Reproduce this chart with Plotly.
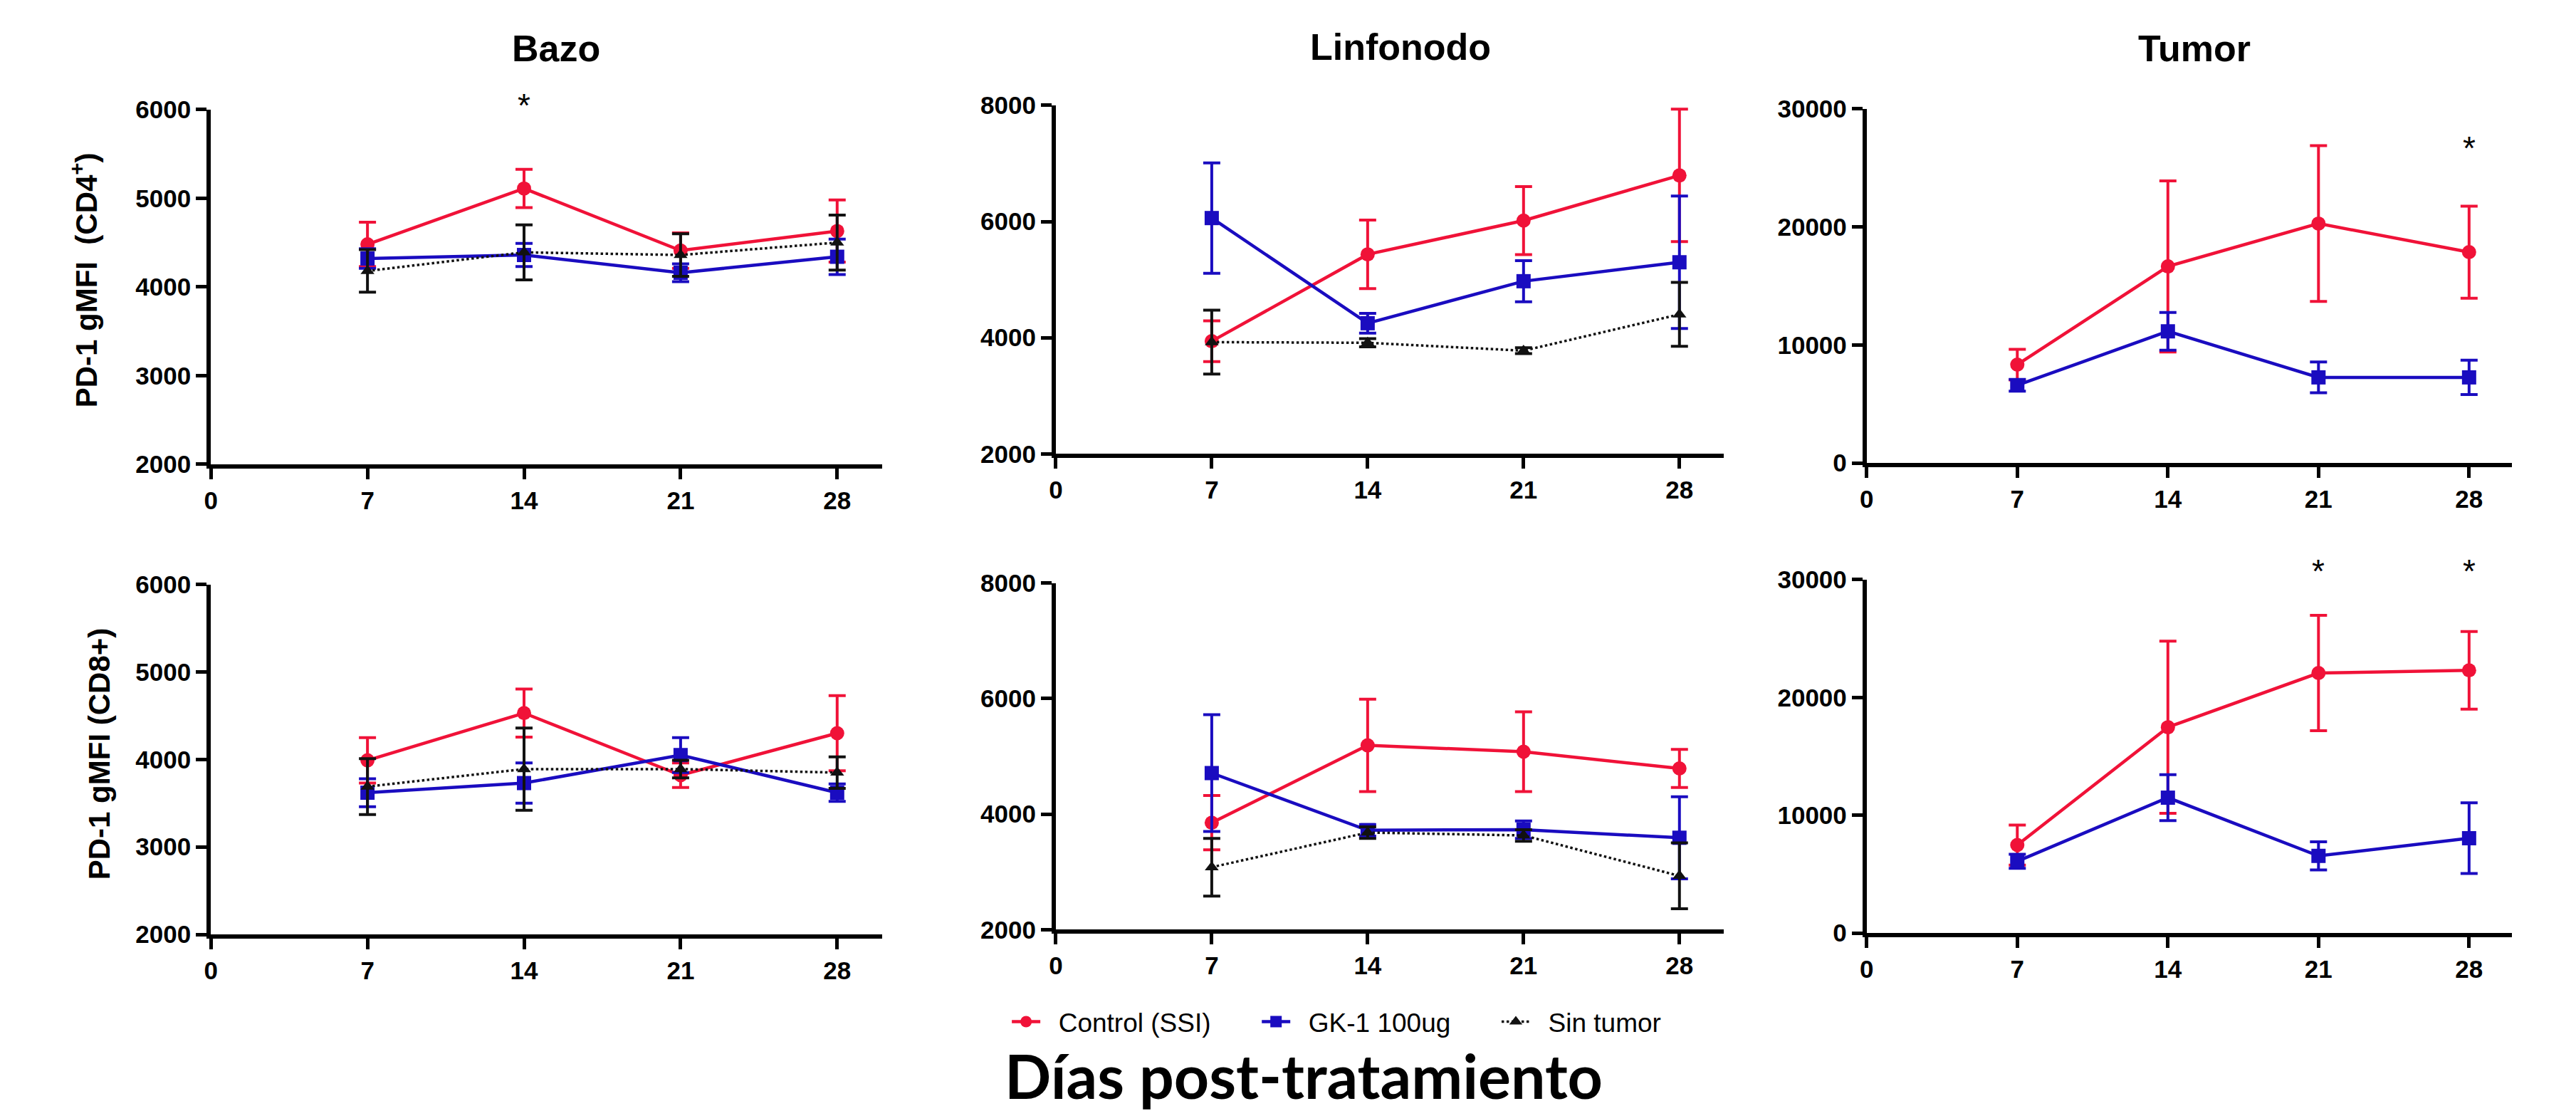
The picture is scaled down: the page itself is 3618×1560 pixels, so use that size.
import plotly.graph_objects as go

# ---------------- data ----------------
days = [7, 14, 21, 28]
series_names = ["Control (SSI)", "GK-1 100ug", "Sin tumor"]
panel_titles = ["Bazo", "Linfonodo", "Tumor"]
y_titles = ["PD-1 gMFI  (CD4<sup>+</sup>)", "PD-1 gMFI (CD8+)"]
x_title = "Días post-tratamiento"

# CD4+ (top row)
bazo_cd4_ctrl = [4480, 5110, 4410, 4630]
bazo_cd4_ctrl_err = [250, 215, 200, 350]
bazo_cd4_gk1 = [4320, 4360, 4160, 4340]
bazo_cd4_gk1_err = [110, 130, 100, 200]
bazo_cd4_sin = [4180, 4390, 4360, 4500]
bazo_cd4_sin_err = [240, 310, 240, 310]

lin_cd4_ctrl = [3940, 5435, 6016, 6794]
lin_cd4_ctrl_err = [350, 590, 585, 1140]
lin_cd4_gk1 = [6060, 4250, 4973, 5299]
lin_cd4_gk1_err = [950, 170, 355, 1140]
lin_cd4_sin = [3924, 3913, 3777, 4402]
lin_cd4_sin_err = [550, 70, 50, 550]

tum_cd4_ctrl = [8330, 16650, 20280, 17860]
tum_cd4_ctrl_err = [1300, 7250, 6600, 3900]
tum_cd4_gk1 = [6580, 11150, 7250, 7250]
tum_cd4_gk1_err = [500, 1600, 1300, 1450]

# CD8+ (bottom row)
bazo_cd8_ctrl = [3990, 4530, 3820, 4300]
bazo_cd8_ctrl_err = [260, 275, 140, 430]
bazo_cd8_gk1 = [3620, 3730, 4050, 3620]
bazo_cd8_gk1_err = [160, 230, 200, 100]
bazo_cd8_sin = [3690, 3890, 3890, 3850]
bazo_cd8_sin_err = [320, 470, 100, 180]

lin_cd8_ctrl = [3850, 5190, 5080, 4790]
lin_cd8_ctrl_err = [470, 800, 690, 330]
lin_cd8_gk1 = [4710, 3720, 3730, 3590]
lin_cd8_gk1_err = [1010, 100, 150, 710]
lin_cd8_sin = [3080, 3680, 3630, 2930]
lin_cd8_sin_err = [500, 100, 100, 570]

tum_cd8_ctrl = [7470, 17470, 22070, 22300]
tum_cd8_ctrl_err = [1700, 7300, 4900, 3300]
tum_cd8_gk1 = [6090, 11490, 6550, 8050]
tum_cd8_gk1_err = [600, 1950, 1200, 3000]

# significance stars: (panel index, day)
star_panels = [0, 2, 5, 5]
star_days = [14, 28, 21, 28]

y_ranges = [[2000, 6000], [2000, 8000], [0, 30000],
            [2000, 6000], [2000, 8000], [0, 30000]]
y_ticks = [[2000, 3000, 4000, 5000, 6000], [2000, 4000, 6000, 8000],
           [0, 10000, 20000, 30000],
           [2000, 3000, 4000, 5000, 6000], [2000, 4000, 6000, 8000],
           [0, 10000, 20000, 30000]]
x_ticks = [0, 7, 14, 21, 28]

panels = [
    [(bazo_cd4_ctrl, bazo_cd4_ctrl_err), (bazo_cd4_gk1, bazo_cd4_gk1_err), (bazo_cd4_sin, bazo_cd4_sin_err)],
    [(lin_cd4_ctrl, lin_cd4_ctrl_err), (lin_cd4_gk1, lin_cd4_gk1_err), (lin_cd4_sin, lin_cd4_sin_err)],
    [(tum_cd4_ctrl, tum_cd4_ctrl_err), (tum_cd4_gk1, tum_cd4_gk1_err), None],
    [(bazo_cd8_ctrl, bazo_cd8_ctrl_err), (bazo_cd8_gk1, bazo_cd8_gk1_err), (bazo_cd8_sin, bazo_cd8_sin_err)],
    [(lin_cd8_ctrl, lin_cd8_ctrl_err), (lin_cd8_gk1, lin_cd8_gk1_err), (lin_cd8_sin, lin_cd8_sin_err)],
    [(tum_cd8_ctrl, tum_cd8_ctrl_err), (tum_cd8_gk1, tum_cd8_gk1_err), None],
]

# ---------------- layout geometry (pixels) ----------------
W, H = 3618, 1560
x_px = [(279, 1224), (1469, 2410), (2611, 3520)]
y_px = [[(129, 640), (123, 625), (128, 638)],
        [(813, 1317), (811, 1310), (806, 1315)]]
star_y_px = [123, 185, 794, 794]

RED = "#f01238"
BLUE = "#1a0cc0"
BLACK = "#111111"
styles = [
    dict(color=RED, symbol="circle", dash="solid", lw=4.5, ms=20),
    dict(color=BLUE, symbol="square", dash="solid", lw=4.5, ms=20),
    dict(color=BLACK, symbol="triangle-up", dash="dot", lw=3.5, ms=17),
]
NB = "\u00a0"
legend_labels = [NB * 2 + series_names[0] + NB * 6,
                 NB * 2 + series_names[1] + NB * 6,
                 NB * 2 + series_names[2]]

FONT = "Liberation Sans, Arial, sans-serif"

fig = go.Figure()
layout = dict()
for p in range(6):
    r, c = divmod(p, 3)
    ax = "" if p == 0 else str(p + 1)
    x0, x1 = x_px[c]
    yt, yb = y_px[r][c]
    layout["xaxis" + ax] = dict(
        domain=[x0 / W, x1 / W], anchor="y" + ax, range=[0, 30],
        tickvals=x_ticks, ticktext=[str(t) for t in x_ticks],
        showline=True, linewidth=6, linecolor="black",
        ticks="outside", ticklen=15, tickwidth=5, tickcolor="black",
        showgrid=False, zeroline=False,
        tickfont=dict(family=FONT, size=35, color="black", weight="bold"),
    )
    layout["yaxis" + ax] = dict(
        domain=[1 - yb / H, 1 - yt / H], anchor="x" + ax, range=y_ranges[p],
        tickvals=y_ticks[p], ticktext=[str(t) for t in y_ticks[p]],
        showline=True, linewidth=6, linecolor="black",
        ticks="outside", ticklen=15, tickwidth=5, tickcolor="black",
        showgrid=False, zeroline=False,
        tickfont=dict(family=FONT, size=35, color="black", weight="bold"),
    )
    for s, data in enumerate(panels[p]):
        if data is None:
            continue
        vals, errs = data
        st = styles[s]
        fig.add_trace(go.Scatter(
            x=days, y=vals, mode="lines+markers",
            name=legend_labels[s], legendgroup=series_names[s],
            showlegend=(p == 0), legendrank=s,
            line=dict(color=st["color"], width=st["lw"], dash=st["dash"]),
            marker=dict(color=st["color"], symbol=st["symbol"], size=st["ms"]),
            error_y=dict(type="data", array=errs, visible=True,
                         color=st["color"], thickness=4, width=12),
            xaxis="x" + ax, yaxis="y" + ax, cliponaxis=False,
        ))

annotations = []
for c, t in enumerate(panel_titles):
    cx = [765, 1954, 3072][c]
    cy = [41, 39, 41][c]
    annotations.append(dict(text="<b>" + t + "</b>", x=cx / W, y=1 - cy / H,
                            xref="paper", yref="paper", showarrow=False,
                            xanchor="center", yanchor="middle",
                            font=dict(family=FONT, size=52, color="black")))
for r, t in enumerate(y_titles):
    cx = [100, 122][r]
    cy = [375, 1057][r]
    annotations.append(dict(text="<b>" + t + "</b>", x=cx / W, y=1 - cy / H,
                            xref="paper", yref="paper", showarrow=False,
                            textangle=-90, xanchor="center", yanchor="middle",
                            font=dict(family=FONT, size=42, color="black")))
for p, d, ypx in zip(star_panels, star_days, star_y_px):
    ax = "" if p == 0 else str(p + 1)
    annotations.append(dict(text="*", x=d, y=1 - ypx / H, xref="x" + ax, yref="paper",
                            showarrow=False, xanchor="center", yanchor="middle",
                            font=dict(family=FONT, size=46, color="black")))
annotations.append(dict(text="<b>" + x_title + "</b>", x=1818 / W, y=1 - 1519 / H,
                        xref="paper", yref="paper", showarrow=False,
                        xanchor="center", yanchor="middle",
                        font=dict(family="Lato, Open Sans, sans-serif", size=86, color="black")))

fig.update_layout(
    **layout,
    annotations=annotations,
    width=W, height=H,
    margin=dict(l=0, r=0, t=0, b=0),
    paper_bgcolor="white", plot_bgcolor="white",
    showlegend=True,
    legend=dict(orientation="h", x=1402 / W, y=1 - 1443 / H,
                xanchor="left", yanchor="middle",
                font=dict(family=FONT, size=37, color="black"),
                itemwidth=40, bgcolor="rgba(0,0,0,0)", traceorder="normal"),
)

fig.write_html("out.html")
